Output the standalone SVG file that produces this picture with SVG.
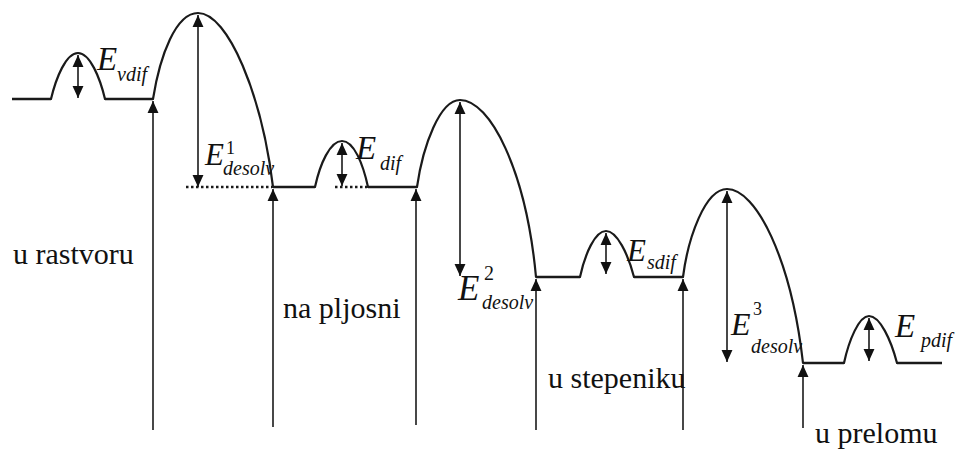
<svg xmlns="http://www.w3.org/2000/svg" width="955" height="450" viewBox="0 0 955 450">
<style>
.prof{fill:none;stroke:#1a1a1a;stroke-width:2.2;stroke-linejoin:round;stroke-linecap:round}
.lvl{fill:none;stroke:#1a1a1a;stroke-width:2.4}
.dot{fill:none;stroke:#1a1a1a;stroke-width:2.4;stroke-dasharray:2.5 2.5}
.arr{fill:none;stroke:#1a1a1a;stroke-width:1.6}
.e{font-style:italic}
</style>
<defs>
<marker id="ah" markerUnits="userSpaceOnUse" markerWidth="12" markerHeight="12" viewBox="0 0 11 10" refX="11" refY="5" orient="auto-start-reverse">
<path d="M0,0 L11,5 L0,10 z" fill="#111"/>
</marker>
</defs>
<rect width="955" height="450" fill="#fff"/>
<g id="profile">
<path class="lvl" d="M12,99 H51 M105,99 H153 M273,187 H315 M368,187 H417 M536,277 H580 M634,277 H683 M803,363 H844 M897,363 H942"/>
<path class="dot" d="M186,187 H272 M335,187 H367"/>
<path class="prof" d="M51,99 C56,78 66,53 78,53 C90,53 100,78 105,99"/>
<path class="prof" d="M153,99 C160,55 176,13 198,13 C228,13 262,95 273,187"/>
<path class="prof" d="M315,187 C320,164 330,141 342,141 C354,141 363,164 368,187"/>
<path class="prof" d="M417,187 C423,145 440,100 460,100 C490,100 526,170 536,277"/>
<path class="prof" d="M580,277 C585,254 595,231 606,231 C617,231 628,254 634,277"/>
<path class="prof" d="M683,277 C688,238 705,189 727,189 C756,189 791,258 803,363"/>
<path class="prof" d="M844,363 C849,340 859,316 869,316 C880,316 891,340 897,363"/>
</g>
<g id="connectors">
<path class="arr" d="M78,55 V98" marker-start="url(#ah)" marker-end="url(#ah)"/>
<path class="arr" d="M198,15 V187" marker-start="url(#ah)" marker-end="url(#ah)"/>
<path class="arr" d="M342,143 V186" marker-start="url(#ah)" marker-end="url(#ah)"/>
<path class="arr" d="M460,102 V276" marker-start="url(#ah)" marker-end="url(#ah)"/>
<path class="arr" d="M606,233 V274" marker-start="url(#ah)" marker-end="url(#ah)"/>
<path class="arr" d="M727,191 V362" marker-start="url(#ah)" marker-end="url(#ah)"/>
<path class="arr" d="M869,318 V361" marker-start="url(#ah)" marker-end="url(#ah)"/>
<path class="arr" d="M153,430 V101" marker-end="url(#ah)"/>
<path class="arr" d="M273,427 V189" marker-end="url(#ah)"/>
<path class="arr" d="M416,425 V189" marker-end="url(#ah)"/>
<path class="arr" d="M536,430 V279" marker-end="url(#ah)"/>
<path class="arr" d="M683,430 V279" marker-end="url(#ah)"/>
<path class="arr" d="M803,428 V365" marker-end="url(#ah)"/>
</g>
<g id="labels" font-family="Liberation Serif, Tinos, Noto Serif, Times New Roman, serif" font-size="30" fill="#111">
<text x="13" y="264">u rastvoru</text>
<text x="283" y="318">na pljosni</text>
<text x="548" y="388">u stepeniku</text>
<text x="815" y="443">u prelomu</text>
</g>
<g id="energies" font-family="Liberation Serif, Tinos, Noto Serif, Times New Roman, serif" fill="#111">
<text class="e" x="97" y="70" font-size="33">E</text><text class="e" x="117" y="81" font-size="20">vdif</text>
<text class="e" x="205" y="165" font-size="31">E</text><text x="226" y="154" font-size="18">1</text><text class="e" x="223" y="175" font-size="20">desolv</text>
<text class="e" x="356" y="159" font-size="33">E</text><text class="e" x="380" y="170" font-size="20">dif</text>
<text class="e" x="458" y="300" font-size="35">E</text><text x="484" y="280" font-size="20">2</text><text class="e" x="482" y="309" font-size="20">desolv</text>
<text class="e" x="627" y="261" font-size="31">E</text><text class="e" x="647" y="269" font-size="20">sdif</text>
<text class="e" x="731" y="335" font-size="32">E</text><text x="753" y="315" font-size="18">3</text><text class="e" x="751" y="353" font-size="20">desolv</text>
<text class="e" x="895" y="337" font-size="33">E</text><text class="e" x="921" y="347" font-size="20">pdif</text>
</g>
</svg>
